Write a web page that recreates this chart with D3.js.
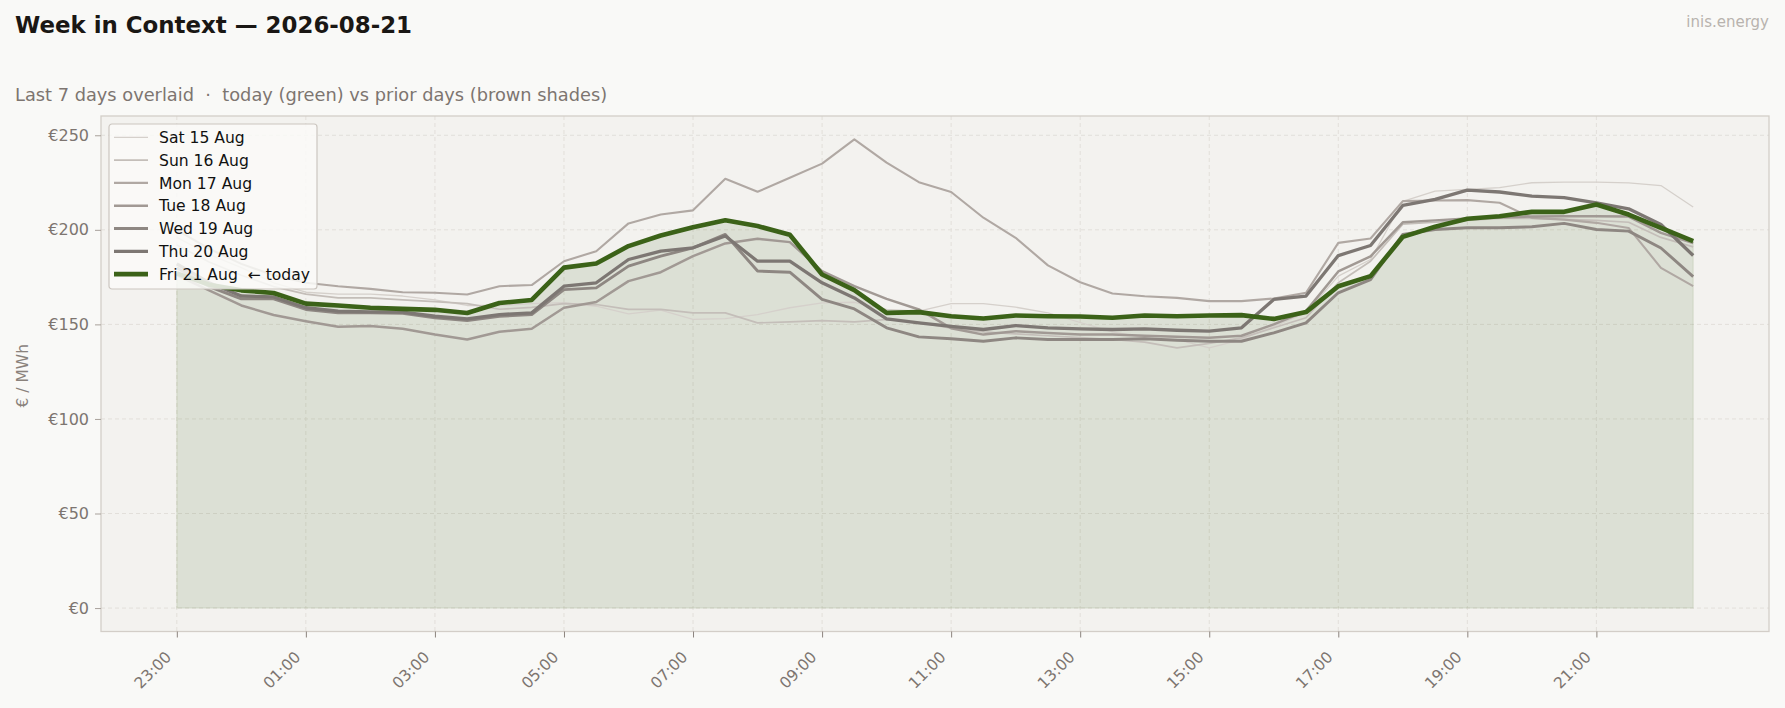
<!DOCTYPE html>
<html lang="en">
<head>
<meta charset="UTF-8">
<title>Week in Context — 2026-08-21</title>
<script src="https://d3js.org/d3.v7.min.js"></script>
<style>
body { margin: 0; background: #f9f9f7; font-family: "DejaVu Sans", sans-serif; }
svg { display: block; }
.tick-label { fill: #7d7570; }
</style>
</head>
<body>
<svg width="1785" height="708"></svg>
<script>
const width = 1785, height = 708;

// half-hour slots, 23:00 previous evening -> 22:30
const times = ["23:00","23:30","00:00","00:30","01:00","01:30","02:00","02:30","03:00","03:30",
    "04:00","04:30","05:00","05:30","06:00","06:30","07:00","07:30","08:00","08:30",
    "09:00","09:30","10:00","10:30","11:00","11:30","12:00","12:30","13:00","13:30",
    "14:00","14:30","15:00","15:30","16:00","16:30","17:00","17:30","18:00","18:30",
    "19:00","19:30","20:00","20:30","21:00","21:30","22:00","22:30"];
const tickLabels = ["23:00","01:00","03:00","05:00","07:00","09:00","11:00","13:00","15:00","17:00","19:00","21:00"];
const yTicks = [0, 50, 100, 150, 200, 250];

const dayNames = ["Sat 15 Aug", "Sun 16 Aug", "Mon 17 Aug", "Tue 18 Aug", "Wed 19 Aug", "Thu 20 Aug", "Fri 21 Aug"];

const sat15 = [196,187,180,172,167,166,166,165,163,160,160,161,161.5,159.6,155.6,157.5,152.6,153.1,155.2,158.8,
    161.4,161.7,157.9,157,161,161,159.1,156.1,151,146,143,142,137.6,142,149,156.1,175.5,184.3,215,220.5,
    221.4,222.3,224.9,225.2,225.2,224.8,223.4,212.1];
const sun16 = [192,183,176,170,166,164,164,163,162,161,158,159,161,160.5,157.9,157.9,156.1,156.1,150.8,151.3,
    152,151.3,152.6,151,148,146,145,144,143,142,140.6,137.6,140,142.9,148.2,153.5,172,183.4,203,204,
    205,206,206,205.5,205,204,196,191];
const mon17 = [200,190,182,176,172,170.2,168.8,167,166.7,165.8,170.2,170.8,183.4,188.7,203.4,208.1,210.3,227,220.1,227.5,
    235,247.8,235.5,225.2,220,206.4,195.8,181.2,172.3,166.3,164.9,164,162.3,162.3,163.7,166.7,193.1,195.4,215.2,215.5,
    215.7,214.3,206.3,205.4,203.7,201,179.9,170.2];
const tue18 = [176,168,160,155,151.7,148.7,149.1,147.7,144.6,142,146.1,147.7,158.8,161.8,172.9,177.6,186.1,192.8,195.3,193.5,
    178.2,170.2,163.5,157.9,148,144.6,146.4,145.5,144.6,144.6,144,143.5,143,144,150,157,178,186,204,205,
    206,206.5,207,207.2,207.2,207,198.4,193];
const wed19 = [180,170,163.5,163.5,157.9,156.1,156.1,155.8,153.5,152,154.3,155.2,168.4,169.3,180.8,186.1,190.5,197.6,178.2,177.6,
    163.2,158.2,148.2,143.4,142.4,141.1,142.9,142,142,142,142.4,141.6,141.1,141.1,145.5,150.8,166.7,173.7,197.6,200.2,
    201.1,201.1,201.6,203.4,200.2,199.3,190.4,175.3];
const thu20 = [182,172,165,164.5,158.8,157,156.6,156.5,154.3,152.9,155.2,156.1,170.2,172,184.3,188.7,190.5,196.7,183.4,183.4,
    172,164,152.9,150.8,149,147.3,149.4,148.2,147.6,147.3,147.6,146.9,146.4,148.2,163.2,165,186.4,191.7,212.9,216.1,
    221,220,217.8,217,214.3,211.1,202.8,186.4];
const fri21 = [177,171,168,166.6,161,160,158.8,158.2,157.7,156,161.3,162.9,180,182.2,191.4,197,201.4,205.1,202,197.4,
    176.4,168.1,156.1,156.5,154.3,153.1,154.7,154.3,154.2,153.5,154.7,154.3,154.7,154.9,152.9,156.5,170.2,175.5,196.3,201.6,
    205.9,207.2,209.5,209.5,213.4,208.1,201,194];

const series = [sat15, sun16, mon17, tue18, wed19, thu20, fri21];

// styles: older days lighter and thinner
const colors = ["#d5d0cb", "#c4beb9", "#b0a8a3", "#a19994", "#8e8782", "#7d7773", "#3b6218"];
const widths = [1.3, 1.7, 2.1, 2.5, 2.9, 3.3, 4.6];

const svg = d3.select("svg");

const plot = {left: 101, right: 1769, top: 116, bottom: 631.5};

const n = times.length;
const xPad = (n - 1) * 0.05;
const x = d3.scaleLinear().domain([-xPad, n - 1 + xPad]).range([plot.left, plot.right]);

const yMax = d3.max(series.flat());
const yPad = yMax * 0.05;
const y = d3.scaleLinear().domain([-yPad, yMax + yPad]).range([plot.bottom, plot.top]);

// headings
svg.append("text").attr("x", 15).attr("y", 33)
    .style("font-size", "22.9px").style("font-weight", "bold").attr("fill", "#1a1714")
    .text("Week in Context — 2026-08-21");
svg.append("text").attr("x", 15).attr("y", 101)
    .style("font-size", "17.8px").attr("fill", "#7d7570").style("white-space", "pre")
    .text("Last 7 days overlaid  ·  today (green) vs prior days (brown shades)");
svg.append("text").attr("x", 1769).attr("y", 27).attr("text-anchor", "end")
    .style("font-size", "15px").attr("fill", "#b8b3ae")
    .text("inis.energy");

// plot background
svg.append("rect")
    .attr("x", plot.left).attr("y", plot.top)
    .attr("width", plot.right - plot.left).attr("height", plot.bottom - plot.top)
    .attr("fill", "#f3f2ef");

// grid
const tickIdx = tickLabels.map(t => times.indexOf(t));
svg.append("g").selectAll("line").data(tickIdx).join("line")
    .attr("x1", d => x(d)).attr("x2", d => x(d))
    .attr("y1", plot.top).attr("y2", plot.bottom)
    .attr("stroke", "#e2dfda").attr("stroke-width", 1).attr("stroke-dasharray", "4,3");
svg.append("g").selectAll("line").data(yTicks).join("line")
    .attr("x1", plot.left).attr("x2", plot.right)
    .attr("y1", d => y(d)).attr("y2", d => y(d))
    .attr("stroke", "#e2dfda").attr("stroke-width", 1).attr("stroke-dasharray", "4,3");

// today fill
const area = d3.area().x((d, i) => x(i)).y0(y(0)).y1(d => y(d));
svg.append("path").datum(fri21)
    .attr("d", area)
    .attr("fill", "rgba(61,99,23,0.12)")
    .attr("stroke", "rgba(61,99,23,0.1)").attr("stroke-width", 1.2);

// day lines
const line = d3.line().x((d, i) => x(i)).y(d => y(d));
svg.append("g").selectAll("path").data(series).join("path")
    .attr("d", line)
    .attr("fill", "none")
    .attr("stroke", (d, i) => colors[i])
    .attr("stroke-width", (d, i) => widths[i])
    .attr("stroke-linejoin", "round");

// frame
svg.append("rect")
    .attr("x", plot.left).attr("y", plot.top)
    .attr("width", plot.right - plot.left).attr("height", plot.bottom - plot.top)
    .attr("fill", "none").attr("stroke", "#d3cec8").attr("stroke-width", 1.3);

// y axis
const yAxis = d3.axisLeft(y).tickValues(yTicks).tickSize(6).tickPadding(6).tickFormat(d => "€" + d);
const gy = svg.append("g").attr("transform", `translate(${plot.left},0)`).call(yAxis);
gy.select(".domain").remove();
gy.selectAll(".tick line").attr("stroke", "#a8a19b");
gy.selectAll(".tick text").attr("class", "tick-label").style("font-size", "16px").style("font-family", "DejaVu Sans");

svg.append("text")
    .attr("transform", `translate(28, ${(plot.top + plot.bottom) / 2 + 2}) rotate(-90)`)
    .attr("text-anchor", "middle")
    .style("font-size", "15.5px").attr("fill", "#8a827c")
    .text("€ / MWh");

// x axis
const xAxis = d3.axisBottom(x).tickValues(tickIdx).tickSize(6).tickFormat(d => times[d]);
const gx = svg.append("g").attr("transform", `translate(0,${plot.bottom})`).call(xAxis);
gx.select(".domain").remove();
gx.selectAll(".tick line").attr("stroke", "#8c847e");
gx.selectAll(".tick text")
    .attr("class", "tick-label")
    .style("font-size", "15.5px").style("font-family", "DejaVu Sans")
    .attr("text-anchor", "end")
    .attr("x", 0).attr("y", 0).attr("dy", 0)
    .attr("transform", "translate(-5,26.5) rotate(-45)");

// legend
const legend = svg.append("g").attr("transform", "translate(109,124)");
legend.append("rect")
    .attr("width", 208).attr("height", 165).attr("rx", 3)
    .attr("fill", "rgba(250,250,248,0.85)")
    .attr("stroke", "#ccc6c0").attr("stroke-width", 1.2);
const rowH = 22.8;
const rows = legend.selectAll("g.row").data(dayNames).join("g")
    .attr("class", "row")
    .attr("transform", (d, i) => `translate(0,${13.3 + i * rowH})`);
rows.append("line")
    .attr("x1", 5).attr("x2", 39)
    .attr("stroke", (d, i) => colors[i])
    .attr("stroke-width", (d, i) => widths[i]);
rows.append("text")
    .attr("x", 50).attr("dy", "0.36em")
    .style("font-size", "15.6px").style("white-space", "pre").attr("fill", "#111")
    .text((d, i) => i === dayNames.length - 1 ? d + "  ← today" : d);
</script>
</body>
</html>
